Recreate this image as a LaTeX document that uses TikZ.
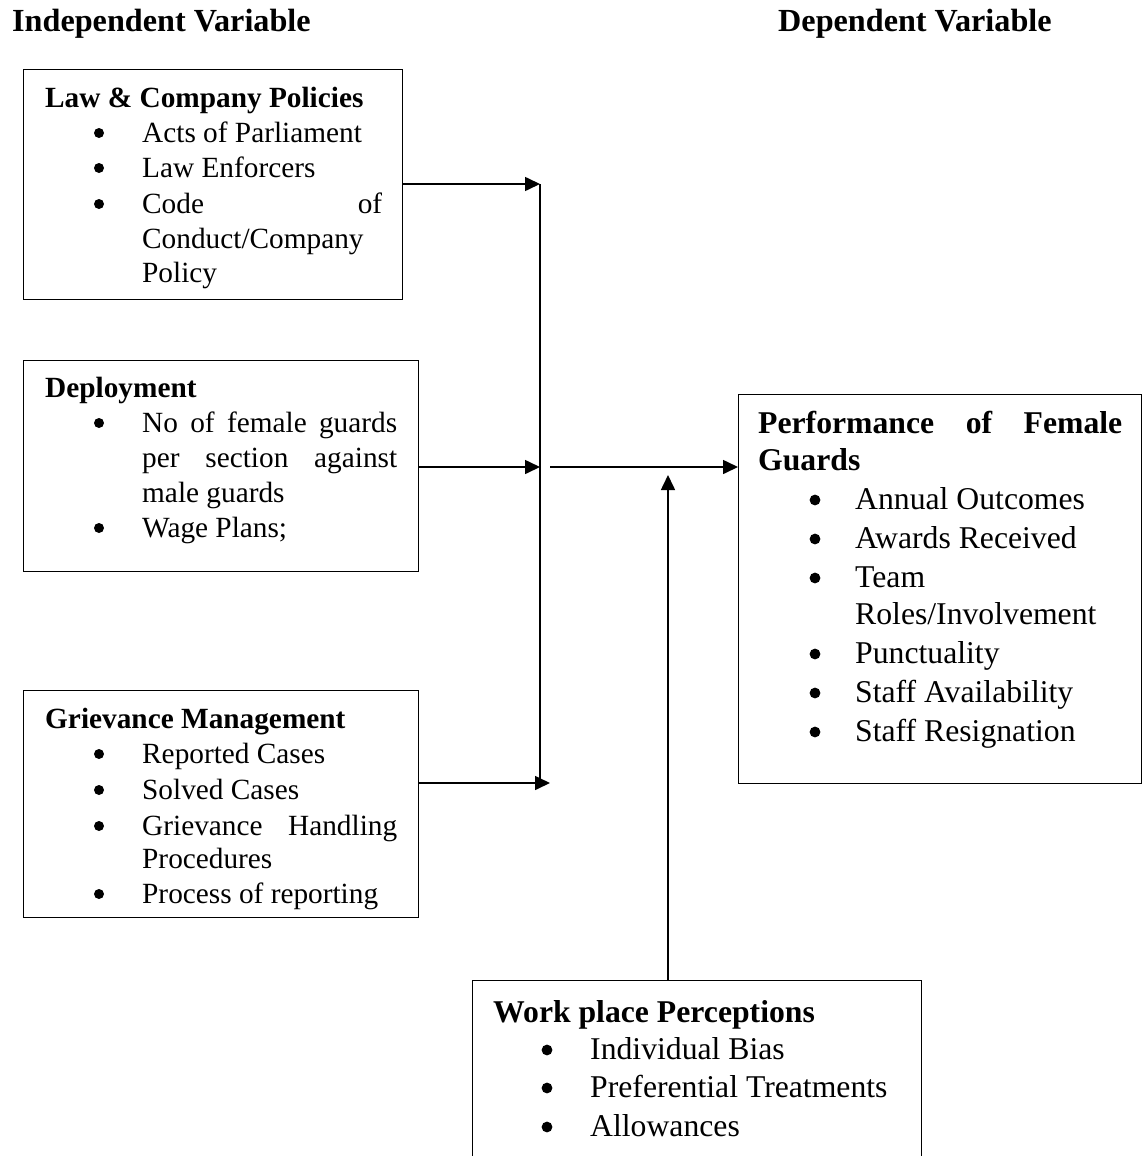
\documentclass[tikz,border=0pt]{standalone}
\usepackage{fontspec}
\setmainfont{Liberation Serif}
\usetikzlibrary{arrows.meta}
\begin{document}
\begin{tikzpicture}[x=1pt,y=-1pt,
  box/.style={draw, line width=1.4pt, inner sep=0pt, anchor=north west},
  txt/.style={anchor=base west, inner sep=0pt, font=\fontsize{29.3}{35}\selectfont},
  ttl/.style={txt, font=\fontsize{29.3}{35}\selectfont\bfseries},
  hdg/.style={txt, font=\fontsize{32.2}{38}\selectfont\bfseries},
  txtb/.style={anchor=base west, inner sep=0pt, font=\fontsize{31.7}{38}\selectfont},
  ttlb/.style={txtb, font=\fontsize{31.7}{38}\selectfont\bfseries},
  dot/.style={circle, fill, inner sep=0pt, minimum size=10pt},
  dotb/.style={circle, fill, inner sep=0pt, minimum size=10.8pt},
  conn/.style={line width=1.6pt},
  arr/.style={conn, -{Triangle[length=15pt,width=14pt]}}]
\useasboundingbox (0,0) rectangle (1143,1156);
\clip (0,0) rectangle (1143,1156);

% headings
\node[hdg] (h1) at (12,32) {Independent Variable};
\node[hdg] (h2) at (778,32) {Dependent Variable};

% Box 1
\node[box, minimum width=379pt, minimum height=230pt] (b1) at (23,69) {};
\node[ttl] (b1t) at (45,107) {Law \& Company Policies};
\node[dot] (b1u1) at (99,133) {};
\node[txt] (b1a) at (142,142) {Acts of Parliament};
\node[dot] (b1u2) at (99,168) {};
\node[txt] (b1b) at (142,177) {Law Enforcers};
\node[dot] (b1u3) at (99,204) {};
\node[txt] (b1c) at (142,213) {\makebox[240pt][s]{Code of}};
\node[txt] (b1d) at (142,248) {Conduct/Company};
\node[txt] (b1e) at (142,282) {Policy};

% Box 2
\node[box, minimum width=395pt, minimum height=211pt] (b2) at (23,360) {};
\node[ttl] (b2t) at (45,397) {Deployment};
\node[dot] (b2u1) at (99,423) {};
\node[txt] (b2a) at (142,432) {\makebox[255pt][s]{No of female guards}};
\node[txt] (b2b) at (142,467) {\makebox[255pt][s]{per section against}};
\node[txt] (b2c) at (142,502) {male guards};
\node[dot] (b2u2) at (99,528) {};
\node[txt] (b2d) at (142,537) {Wage Plans;};

% Box 3
\node[box, minimum width=395pt, minimum height=227pt] (b3) at (23,690) {};
\node[ttl] (b3t) at (45,728) {Grievance Management};
\node[dot] (b3u1) at (99,754) {};
\node[txt] (b3a) at (142,763) {Reported Cases};
\node[dot] (b3u2) at (99,790) {};
\node[txt] (b3b) at (142,799) {Solved Cases};
\node[dot] (b3u3) at (99,826) {};
\node[txt] (b3c) at (142,835) {\makebox[255pt][s]{Grievance Handling}};
\node[txt] (b3d) at (142,868) {Procedures};
\node[dot] (b3u4) at (99,894) {};
\node[txt] (b3e) at (142,903) {Process of reporting};

% Performance box
\node[box, minimum width=403pt, minimum height=389pt] (pf) at (738,394) {};
\node[ttlb] (pft) at (758,433) {\makebox[364pt][s]{Performance of Female}};
\node[ttlb] (pft2) at (758,470) {Guards};
\node[dotb] (pu1) at (815,500) {};
\node[txtb] (pa) at (855,509) {Annual Outcomes};
\node[dotb] (pu2) at (815,539) {};
\node[txtb] (pb) at (855,548) {Awards Received};
\node[dotb] (pu3) at (815,578) {};
\node[txtb] (pc) at (855,587) {Team};
\node[txtb] (pd) at (855,624) {Roles/Involvement};
\node[dotb] (pu4) at (815,654) {};
\node[txtb] (pe) at (855,663) {Punctuality};
\node[dotb] (pu5) at (815,693) {};
\node[txtb] (pf2) at (855,702) {Staff Availability};
\node[dotb] (pu6) at (815,732) {};
\node[txtb] (pg) at (855,741) {Staff Resignation};

% Work place box (cut off at bottom)
\node[box, minimum width=449pt, minimum height=220pt] (wp) at (472,980) {};
\node[ttlb] (wpt) at (493,1022) {Work place Perceptions};
\node[dotb] (wu1) at (547,1050) {};
\node[txtb] (wa) at (590,1059) {Individual Bias};
\node[dotb] (wu2) at (547,1088) {};
\node[txtb] (wb) at (590,1097) {Preferential Treatments};
\node[dotb] (wu3) at (547,1127) {};
\node[txtb] (wc) at (590,1136) {Allowances};

% connectors
\coordinate (j1) at (540,184);
\coordinate (j2) at (540,467);
\coordinate (j3) at (540,783);
\coordinate (j3e) at (550,783);
\coordinate (m0) at (550,467);
\coordinate (up) at (668,475);

\draw[arr] (b1.east |- j1) -- (j1);
\draw[arr] (b2.east |- j2) -- (j2);
\draw[arr] (b3.east |- j3) -- (j3e);
\draw[conn] (j1) -- (j3);
\draw[arr] (m0) -- (pf.west |- m0);
\draw[arr] (wp.north -| up) -- (up);
\end{tikzpicture}
\end{document}
